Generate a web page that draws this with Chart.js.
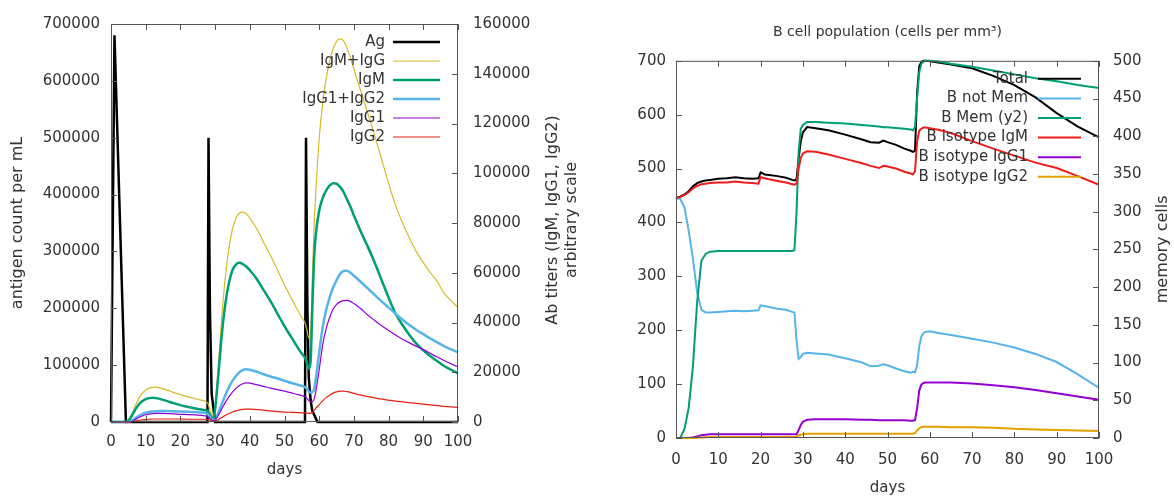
<!DOCTYPE html>
<html>
<head>
<meta charset="utf-8">
<script src="https://cdn.jsdelivr.net/npm/chart.js@4.4.0/dist/chart.umd.min.js"></script>
<style>
  html, body { margin: 0; padding: 0; background: #fff; }
  #left { position: absolute; left: 0; top: 0; width: 600px; height: 498px; }
  #right { position: absolute; left: 600px; top: 0; width: 574px; height: 498px; }
</style>
</head>
<body>
<div id="left"><canvas id="abChart"></canvas></div>
<div id="right"><canvas id="bChart"></canvas></div>
<script>
// ---- left panel: antigen and antibody titers ----
const agDays   = [0, 1, 4.3, 27.8, 28.1, 28.5, 29, 30, 55.9, 56.2, 56.6, 57, 57.5, 58, 59.5, 100];
const agValues = [0, 680000, 0, 0, 500000, 200000, 50000, 0, 0, 500000, 200000, 78000, 40000, 20000, 0, 0];

const abDays = [0, 4, 5, 6, 7, 8, 9, 10, 11, 12, 13, 14,
  16, 18, 20, 22, 24, 26, 27, 28,
  28.5, 29, 29.5, 30, 31, 32, 33, 34, 35, 36, 37, 38, 39, 40,
  42, 44, 46, 48, 50, 52, 54, 55, 56,
  56.5, 57, 57.5, 58, 58.5, 59, 60, 61, 62, 63, 64, 65, 66, 67, 68, 69, 70,
  72, 74, 76, 78, 80, 82, 84, 86, 88, 90, 92, 94, 96, 98, 100];

const igmIgg = [0, 0, 500, 3000, 6500, 9500, 11500, 12900, 13600, 13900, 14000, 13700,
  12900, 11900, 11000, 10200, 9500, 8800, 8500, 7200,
  5000, 3000, 2000, 6000, 24000, 43500, 59000, 70000, 77500, 81800, 84000, 84400, 83700, 82000,
  77700, 72200, 66800, 61000, 55100, 49700, 44400, 42000, 39500,
  36700, 33800, 35800, 57000, 78000, 92000, 114000, 128000, 138000, 145000, 150000, 153000, 154000, 153200, 150300, 146500, 141800,
  132800, 124200, 115100, 105500, 96000, 87100, 80100, 74000, 68500, 64100, 60100, 56500, 51800, 48800, 46000];

const igm = [0, 0, 500, 2500, 5000, 7000, 8300, 9200, 9600, 9700, 9600, 9300,
  8500, 7600, 6800, 6100, 5500, 5000, 4800, 4200,
  3000, 1800, 1200, 5000, 20000, 36000, 48000, 56000, 61000, 63300, 64000, 63500, 62500, 61000,
  57500, 53000, 48500, 43500, 38500, 34000, 29500, 27500, 25500,
  23500, 21500, 24000, 45000, 65000, 75000, 85000, 90000, 93000, 95000, 96000, 95800, 94500, 92500, 89500, 86500, 83000,
  76500, 70500, 64000, 57000, 50000, 43600, 39000, 35000, 31500, 28800, 26500, 24500, 22500, 21000, 19600];

const igg12 = [0, 0, 0, 500, 1500, 2500, 3200, 3700, 4000, 4200, 4300, 4400,
  4400, 4300, 4200, 4100, 4000, 3800, 3700, 3000,
  2000, 1200, 800, 1000, 4000, 7500, 11000, 14000, 16500, 18500, 20000, 20900, 21200, 21000,
  20200, 19200, 18300, 17500, 16600, 15700, 14900, 14500, 14000,
  13200, 12300, 11800, 12000, 13000, 17000, 28000, 38000, 45000, 50000, 54000, 57000, 59500, 60700, 60800, 60000, 58800,
  56300, 53700, 51100, 48500, 46000, 43500, 41100, 39000, 37000, 35300, 33600, 32000, 30500, 29200, 28000];

const igg1 = [0, 0, 0, 300, 1000, 1800, 2400, 2900, 3200, 3400, 3500, 3500,
  3400, 3300, 3100, 3000, 2900, 2700, 2500, 2000,
  1400, 900, 500, 700, 2800, 5500, 8000, 10200, 12000, 13500, 14700, 15400, 15700, 15600,
  15000, 14300, 13600, 13000, 12400, 11700, 11000, 10600, 10100,
  9400, 8600, 8100, 8200, 9000, 12000, 21000, 31000, 37500, 42000, 45300, 47300, 48300, 48800, 48900, 48500, 47600,
  45500, 43000, 40800, 38700, 36800, 35000, 33300, 31800, 30400, 29100, 27600, 26100, 24700, 23400, 22100];

const igg2 = [0, 0, 0, 100, 400, 700, 900, 1000, 1100, 1200, 1200, 1200,
  1200, 1200, 1200, 1100, 1100, 1100, 1100, 1000,
  800, 500, 300, 300, 1000, 1800, 2700, 3400, 4000, 4500, 4900, 5100, 5200, 5200,
  5000, 4800, 4500, 4200, 4000, 3900, 3800, 3700, 3700,
  3600, 3500, 3500, 3800, 4500, 5500, 7000, 8500, 9800, 10800, 11600, 12100, 12400, 12400, 12200, 11900, 11500,
  10800, 10200, 9700, 9200, 8800, 8400, 8100, 7800, 7500, 7200, 6900, 6600, 6300, 6100, 5900];

// ---- right panel: B cell population ----
const bDays = [0, 1, 2, 3, 4, 5, 6, 7, 8,
  10, 12, 14, 16, 18,
  19.5, 20, 21, 22, 24, 26, 27.5, 28,
  28.5, 29, 29.5, 30, 31, 33, 36, 40,
  44, 46, 48, 49, 50, 52, 54,
  55.5, 56, 56.5, 57, 57.5, 58, 58.5, 59, 60,
  62, 65, 70, 75, 80, 85, 90, 95, 100];

const bTotal = [445, 448, 452, 458, 467, 473, 476, 478, 479,
  481, 482, 484, 482, 481,
  482, 493, 489, 488, 486, 483, 479, 478,
  480, 520, 550, 567, 577, 575, 571, 563,
  554, 549, 548, 552, 549, 544, 537,
  533, 531, 533, 640, 690, 698, 700, 700, 699,
  697, 693, 686, 672, 655, 632, 603, 578, 558];

const bNotMem = [445, 444, 428, 385, 333, 270, 238, 233, 233,
  234, 235, 236, 235, 236,
  237, 246, 245, 243, 240, 238, 234, 233,
  180, 147, 150, 156, 158, 157, 155, 148,
  140, 133, 134, 137, 135, 129, 124,
  121, 123, 122, 135, 170, 188, 195, 197, 198,
  195, 191, 184, 177, 168, 156, 141, 118, 93];

const bMem = [0, 0, 12, 40, 95, 180, 235, 244, 247,
  248, 248, 248, 248, 248,
  248, 248, 248, 248, 248, 248, 248, 249,
  300, 380, 410, 415, 419, 419, 418, 417,
  415, 414, 413, 412, 412, 411, 410,
  409, 408, 412, 450, 485, 496, 499, 500, 500,
  499, 496, 492, 487, 482, 477, 473, 468, 464];

const bIgm = [445, 447, 451, 456, 463, 468, 471, 472, 473,
  474, 474, 476, 474, 473,
  472, 484, 482, 480, 477, 474, 471, 470,
  472, 500, 520, 528, 532, 531, 526, 518,
  510, 505, 501, 505, 504, 500, 494,
  491, 489, 495, 550, 570, 574, 576, 576, 575,
  572, 566, 551, 537, 524, 511, 501, 486, 470];

const bIgg1 = [0, 0, 0, 0, 1, 3, 5, 6, 7,
  7, 7, 7, 7, 7,
  7, 7, 7, 7, 7, 7, 7, 7,
  7, 15, 24, 30, 34, 35, 35, 35,
  34, 34, 33, 33, 33, 33, 33,
  32, 32, 33, 55, 88, 99, 102, 103, 103,
  103, 103, 101, 98, 94, 89, 83, 77, 71];

const bIgg2 = [0, 0, 0, 0, 0, 0.5, 1, 1.5, 2,
  2, 2, 2, 2, 2,
  2, 2, 2, 2, 2, 2, 2, 2,
  3, 5, 6, 7, 8, 8, 8, 8,
  8, 8, 8, 8, 8, 8, 8,
  8, 8, 9, 14, 18, 20, 21, 21, 21,
  21, 20, 20, 19, 17, 16, 15, 14, 13];

const INK = '#333';
Chart.defaults.font.family = "'DejaVu Sans', sans-serif";
Chart.defaults.font.size = 15;
Chart.defaults.color = INK;

function pts(xs, ys) {
  return xs.map((x, i) => ({ x: x, y: ys[i] }));
}

function fixSize(w, h) {
  return function(scale) {
    if (w != null) scale.width = w;
    if (h != null) scale.height = h;
  };
}

// gnuplot style frame with inward ticks (x mirrored on top)
const frame = {
  id: 'frame',
  afterDatasetsDraw(chart) {
    const { ctx, chartArea: a, scales } = chart;
    const L = 6;
    ctx.save();
    ctx.strokeStyle = '#555';
    ctx.lineWidth = 1;
    ctx.strokeRect(a.left + 0.5, a.top + 0.5, a.right - a.left - 1, a.bottom - a.top - 1);
    ctx.beginPath();
    scales.x.ticks.forEach(t => {
      const p = Math.round(scales.x.getPixelForValue(t.value)) + 0.5;
      ctx.moveTo(p, a.bottom); ctx.lineTo(p, a.bottom - L);
      ctx.moveTo(p, a.top); ctx.lineTo(p, a.top + L);
    });
    scales.y.ticks.forEach(t => {
      const p = Math.round(scales.y.getPixelForValue(t.value)) + 0.5;
      ctx.moveTo(a.left, p); ctx.lineTo(a.left + L, p);
    });
    scales.y2.ticks.forEach(t => {
      const p = Math.round(scales.y2.getPixelForValue(t.value)) + 0.5;
      ctx.moveTo(a.right, p); ctx.lineTo(a.right - L, p);
    });
    ctx.stroke();
    ctx.restore();
  }
};

// key drawn inside the plot, text right aligned with the sample line after it
const key = {
  id: 'key',
  afterDatasetsDraw(chart, args, o) {
    const { ctx, chartArea: a } = chart;
    ctx.save();
    ctx.font = "15px 'DejaVu Sans'";
    ctx.textAlign = 'right';
    ctx.textBaseline = 'middle';
    chart.data.datasets.forEach((ds, i) => {
      const y = a.top + o.top + i * o.step;
      ctx.fillStyle = INK;
      ctx.fillText(ds.label, a.right - o.textEnd, y);
      ctx.strokeStyle = ds.borderColor;
      ctx.lineWidth = ds.borderWidth;
      ctx.beginPath();
      ctx.moveTo(a.right - o.lineFrom, y);
      ctx.lineTo(a.right - o.lineTo, y);
      ctx.stroke();
    });
    ctx.restore();
  }
};

// right hand axis titles, reading upwards like gnuplot
const sideTitle = {
  id: 'sideTitle',
  afterDraw(chart, args, o) {
    const { ctx, chartArea: a } = chart;
    const cy = (a.top + a.bottom) / 2 + o.shift;
    ctx.save();
    ctx.font = "16px 'DejaVu Sans'";
    ctx.fillStyle = INK;
    ctx.textAlign = 'center';
    ctx.textBaseline = 'middle';
    o.lines.forEach((line, i) => {
      ctx.save();
      ctx.translate(a.right + o.offsets[i], cy);
      ctx.rotate(-Math.PI / 2);
      ctx.fillText(line, 0, 0);
      ctx.restore();
    });
    ctx.restore();
  }
};

function series(label, xs, ys, color, width, axis, smooth, n, i) {
  return {
    label: label,
    data: pts(xs, ys),
    borderColor: color,
    backgroundColor: color,
    borderWidth: width,
    yAxisID: axis,
    cubicInterpolationMode: smooth ? 'monotone' : 'default',
    tension: 0,
    clip: 3,
    order: n - i
  };
}

const noGrid = { display: false, drawTicks: false };

new Chart(document.getElementById('abChart'), {
  type: 'line',
  data: {
    datasets: [
      series('Ag', agDays, agValues, '#000000', 2.5, 'y', false, 6, 0),
      series('IgM+IgG', abDays, igmIgg, '#d4bc2c', 1.2, 'y2', true, 6, 1),
      series('IgM', abDays, igm, '#009e73', 2.5, 'y2', true, 6, 2),
      series('IgG1+IgG2', abDays, igg12, '#56b4e9', 2.5, 'y2', true, 6, 3),
      series('IgG1', abDays, igg1, '#9400d3', 1.2, 'y2', true, 6, 4),
      series('IgG2', abDays, igg2, '#e51e10', 1.2, 'y2', true, 6, 5)
    ]
  },
  plugins: [frame, key, sideTitle],
  options: {
    responsive: true,
    maintainAspectRatio: false,
    animation: false,
    layout: { padding: { top: 22, left: 0, right: 0, bottom: 0 } },
    elements: { point: { radius: 0 } },
    plugins: {
      legend: { display: false },
      tooltip: { enabled: false },
      key: { top: 18, step: 19, textEnd: 73, lineFrom: 65, lineTo: 18 },
      sideTitle: { lines: ['Ab titers (IgM, IgG1, IgG2)', 'arbitrary scale'], offsets: [95, 114], shift: -3 }
    },
    scales: {
      x: {
        type: 'linear', min: 0, max: 100,
        afterFit: fixSize(null, 76),
        grid: noGrid, border: { display: false },
        ticks: { stepSize: 10, padding: 11 },
        title: { display: true, text: 'days', padding: { top: 0, bottom: 19 } }
      },
      y: {
        position: 'left', min: 0, max: 700000,
        afterFit: fixSize(111, null),
        grid: noGrid, border: { display: false },
        ticks: { stepSize: 100000, padding: 11, callback: v => String(v) },
        title: { display: true, text: 'antigen count per mL', font: { size: 16 }, padding: { top: 8, bottom: 0 } }
      },
      y2: {
        position: 'right', min: 0, max: 160000,
        afterFit: fixSize(142, null),
        grid: noGrid, border: { display: false },
        ticks: { stepSize: 20000, padding: 15, callback: v => String(v) }
      }
    }
  }
});

new Chart(document.getElementById('bChart'), {
  type: 'line',
  data: {
    datasets: [
      series('Total', bDays, bTotal, '#000000', 2, 'y', false, 6, 0),
      series('B not Mem', bDays, bNotMem, '#56b4e9', 2, 'y', false, 6, 1),
      series('B Mem (y2)', bDays, bMem, '#009e73', 2, 'y2', false, 6, 2),
      series('B isotype IgM', bDays, bIgm, '#ee1c1c', 2, 'y', false, 6, 3),
      series('B isotype IgG1', bDays, bIgg1, '#9400d3', 2, 'y', false, 6, 4),
      series('B isotype IgG2', bDays, bIgg2, '#e6a000', 2, 'y', false, 6, 5)
    ]
  },
  plugins: [frame, key, sideTitle],
  options: {
    responsive: true,
    maintainAspectRatio: false,
    animation: false,
    layout: { padding: 0 },
    elements: { point: { radius: 0 } },
    plugins: {
      legend: { display: false },
      tooltip: { enabled: false },
      title: {
        display: true, text: 'B cell population (cells per mm³)', fullSize: false,
        font: { size: 14, weight: 'normal' }, color: INK,
        padding: { top: 24, bottom: 20 }
      },
      key: { top: 18, step: 19.6, textEnd: 71, lineFrom: 61, lineTo: 18 },
      sideTitle: { lines: ['memory cells'], offsets: [64], shift: 0 }
    },
    scales: {
      x: {
        type: 'linear', min: 0, max: 100,
        afterFit: fixSize(null, 60),
        grid: noGrid, border: { display: false },
        ticks: { stepSize: 10, padding: 13 },
        title: { display: true, text: 'days', padding: { top: 0, bottom: 1 } }
      },
      y: {
        position: 'left', min: 0, max: 700,
        afterFit: fixSize(76, null),
        grid: noGrid, border: { display: false },
        ticks: { stepSize: 100, padding: 10 }
      },
      y2: {
        position: 'right', min: 0, max: 500,
        afterFit: fixSize(75, null),
        grid: noGrid, border: { display: false },
        ticks: { stepSize: 50, padding: 14 }
      }
    }
  }
});
</script>
</body>
</html>
